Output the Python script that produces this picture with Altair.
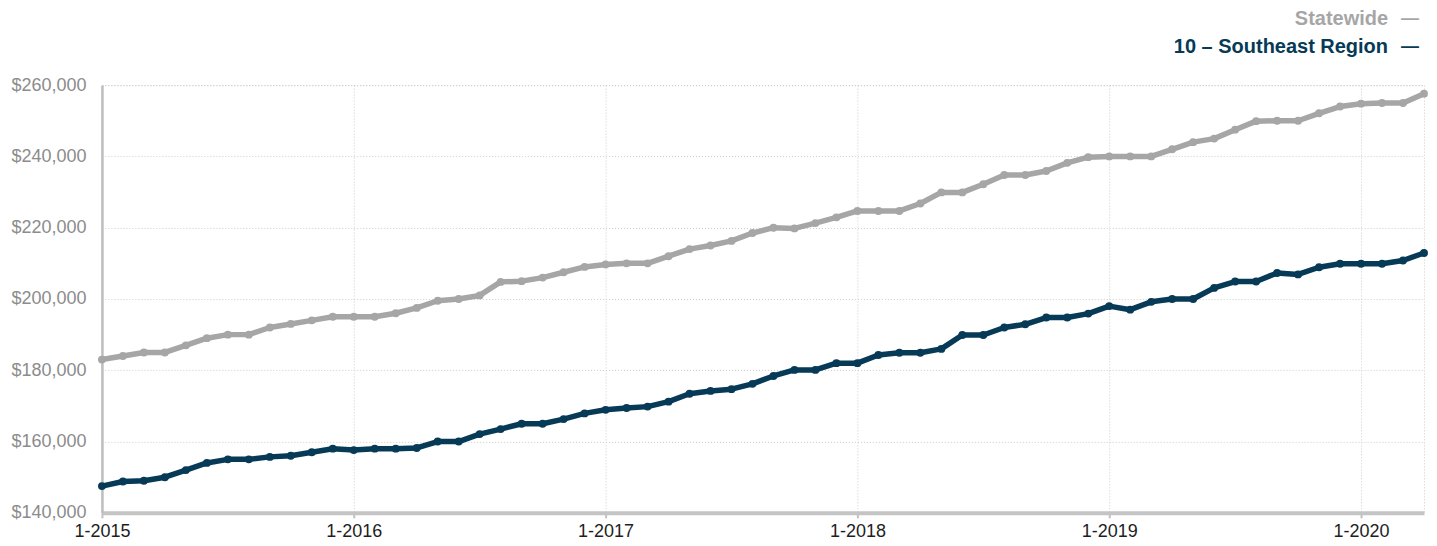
import altair as alt
import pandas as pd

# ---- data ----
years = [2015, 2016, 2017, 2018, 2019, 2020]
month_labels = [f"{m}-{y}" for y in years for m in range(1, 13)][:64]

statewide = [
    183000, 184000, 185000, 185000, 187000, 189000, 190000, 190000, 192000, 193000, 194000, 195000,
    195000, 195000, 196000, 197500, 199500, 200000, 201000, 204800, 205000, 206000, 207500, 209000,
    209700, 210000, 210000, 212000, 214000, 215000, 216300, 218500, 220000, 219800, 221300, 222900,
    224700, 224700, 224700, 226800, 229900, 229900, 232200, 234800, 234800, 235900, 238200, 239800,
    240000, 240000, 240000, 242000, 244000, 245000, 247500, 249900, 250000, 250000, 252100, 254000,
    254800, 255000, 255000, 257600,
]
southeast = [
    147500, 148800, 149000, 150000, 152000, 154000, 155000, 155000, 155700, 156000, 157000, 158000,
    157600, 158000, 158000, 158200, 160000, 160000, 162100, 163500, 165000, 165000, 166300, 167900,
    168900, 169400, 169800, 171200, 173400, 174200, 174700, 176200, 178400, 180100, 180100, 182000,
    182000, 184300, 184900, 184900, 186000, 189900, 189900, 192000, 192900, 194800, 194800, 195900,
    198000, 197000, 199200, 200000, 200000, 203100, 204900, 204900, 207300, 206900, 208900, 209900,
    209900, 209900, 210800, 212900,
]
series_names = ["Statewide", "10 \u2013 Southeast Region"]
series_colors = ["#a6a6a6", "#063a56"]
year_ticks = [0, 12, 24, 36, 48, 60]
y_ticks = [140000, 160000, 180000, 200000, 220000, 240000, 260000]

rows = []
for name, vals in zip(series_names, [statewide, southeast]):
    for i, v in enumerate(vals):
        rows.append({"idx": i, "month": month_labels[i], "series": name, "value": v})
df = pd.DataFrame(rows)

W, H = 1323, 428

x_enc = alt.X(
    "idx:Q",
    scale=alt.Scale(domain=[0, 63], nice=False, zero=False),
    axis=alt.Axis(
        values=year_ticks,
        labelExpr="'1-' + (2015 + datum.value / 12)",
        title=None,
        labelFlush=False,
        labelOverlap=False,
        labelFontSize=18,
        labelColor="#1e1e1e",
        labelPadding=5,
        tickSize=5,
        tickWidth=2,
        tickColor="#c0c0c0",
        domainColor="#c4c4c4",
        domainWidth=4,
        grid=True,
        gridColor="#cccccc",
        gridDash=[1, 2],
    ),
)
y_enc = alt.Y(
    "value:Q",
    scale=alt.Scale(domain=[140000, 260000], nice=False, zero=False),
    axis=alt.Axis(
        values=y_ticks,
        format="$,.0f",
        title=None,
        labelFontSize=18,
        labelColor="#8c8c8c",
        labelPadding=16,
        ticks=False,
        domainColor="#bdbdbd",
        domainWidth=2.5,
        grid=True,
        gridColor="#cccccc",
        gridDash=[1, 2],
    ),
)
color_enc = alt.Color(
    "series:N",
    scale=alt.Scale(domain=series_names, range=series_colors),
    legend=None,
)

base = alt.Chart(df)
lines = base.mark_line(strokeWidth=5.5, strokeJoin="round", strokeCap="round").encode(
    x=x_enc, y=y_enc, color=color_enc, detail="series:N"
)
points = base.mark_circle(size=62, opacity=1).encode(
    x="idx:Q", y="value:Q", color=color_enc
)

legend_layers = []
leg_y = [-66, -38]
for name, col, ly in zip(series_names, series_colors, leg_y):
    ldf = pd.DataFrame({"label": [name], "dash": ["\u2014"]})
    t = alt.Chart(ldf).mark_text(
        align="right", baseline="middle", fontSize=20, fontWeight="bold",
        font="Liberation Sans", color=col
    ).encode(text="label:N", x=alt.value(W - 36), y=alt.value(ly))
    d = alt.Chart(ldf).mark_text(
        align="right", baseline="middle", fontSize=18, fontWeight="bold",
        font="Liberation Sans", color=col
    ).encode(text="dash:N", x=alt.value(W - 5), y=alt.value(ly))
    legend_layers += [t, d]

chart = alt.layer(lines, points, *legend_layers).properties(
    width=W,
    height=H,
    autosize=alt.AutoSizeParams(type="none"),
    padding={"left": 94, "top": 77, "right": 5, "bottom": 30},
).configure_view(
    stroke="#cccccc", strokeDash=[1, 2], strokeWidth=1
).configure_axis(
    labelFont="Liberation Sans"
)

chart.save("out.html", embed_options={"renderer": "svg", "actions": False})
